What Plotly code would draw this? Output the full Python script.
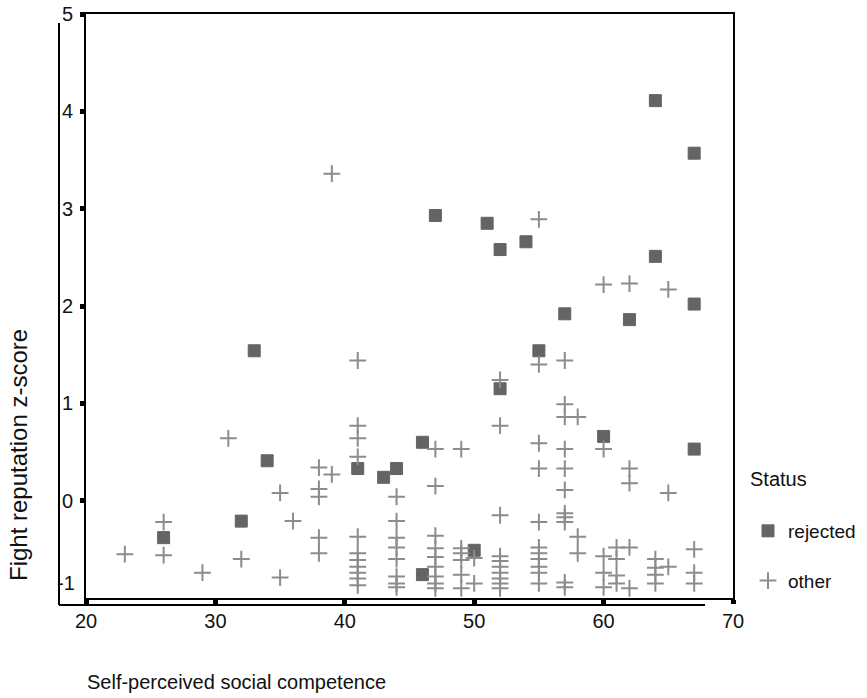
import plotly.graph_objects as go

# ---- data ----
rejected_x = [26, 32, 33, 34, 41, 43, 44, 46, 46, 47, 50, 51, 52, 52, 54, 55, 57, 60, 62, 64, 64, 67, 67, 67]
rejected_y = [-0.38, -0.21, 1.54, 0.41, 0.33, 0.24, 0.33, 0.60, -0.76, 2.93, -0.51, 2.85, 2.58, 1.15,
              2.66, 1.54, 1.92, 0.66, 1.86, 4.11, 2.51, 3.57, 2.02, 0.53]

other_x = ([23] + [26] * 2 + [29] + [31] + [32] + [35] * 2 + [36] + [38] * 5 + [39] * 2 + [41] * 11 +
           [44] * 8 + [47] * 9 + [49] * 6 + [50] * 2 + [52] * 10 + [55] * 11 + [57] * 11 + [58] * 3 +
           [60] * 5 + [61] * 4 + [62] * 5 + [64] * 4 + [65] * 3 + [67] * 3)
other_y = [
    -0.55,
    -0.22, -0.56,
    -0.74,
    0.64,
    -0.60,
    0.08, -0.79,
    -0.21,
    0.34, 0.12, 0.04, -0.38, -0.54,
    3.36, 0.27,
    1.44, 0.77, 0.64, 0.45, -0.37, -0.54, -0.61, -0.68, -0.74, -0.80, -0.87,
    0.04, -0.21, -0.38, -0.48, -0.60, -0.78, -0.85, -0.89,
    0.53, 0.15, -0.36, -0.49, -0.58, -0.68, -0.78, -0.85, -0.90,
    0.53, -0.49, -0.54, -0.61, -0.76, -0.90,
    -0.59, -0.85,
    1.24, 0.77, -0.15, -0.57, -0.62, -0.68, -0.74, -0.80, -0.85, -0.90,
    2.89, 1.40, 0.59, 0.33, -0.22, -0.48, -0.54, -0.60, -0.68, -0.74, -0.85,
    1.44, 0.99, 0.86, 0.53, 0.33, 0.11, -0.13, -0.17, -0.22, -0.84, -0.89,
    0.86, -0.37, -0.54,
    2.22, 0.53, -0.57, -0.74, -0.89,
    -0.48, -0.60, -0.77, -0.85,
    2.23, 0.33, 0.18, -0.48, -0.90,
    -0.60, -0.69, -0.76, -0.85,
    2.17, 0.08, -0.68,
    -0.50, -0.74, -0.85,
]

x_ticks = [20, 30, 40, 50, 60, 70]
y_ticks = [0, 1, 2, 3, 4, 5]

FONT = "Liberation Sans, Arial, sans-serif"
W, H = 867, 698
L, R, T, B = 86, 733, 14, 598
PW, PH = R - L, B - T


def px(sx):
    return (sx - L) / PW


def py(sy):
    return (B - sy) / PH


fig = go.Figure()
fig.add_trace(go.Scatter(
    x=rejected_x, y=rejected_y, mode="markers", name="rejected", legendgroup="a",
    marker=dict(symbol="square", size=12, color="#646464", line=dict(width=1, color="#646464")),
))
fig.add_trace(go.Scatter(
    x=other_x, y=other_y, mode="markers", name="other", legendgroup="b",
    marker=dict(symbol="cross-thin", size=12, line=dict(width=2, color="#8c8c8c"), color="#8c8c8c"),
))

fig.update_layout(
    width=W, height=H,
    margin=dict(l=L, r=W - R, t=T, b=H - B, autoexpand=False),
    plot_bgcolor="white", paper_bgcolor="white",
    font=dict(family=FONT, color="#111111", size=19),
    showlegend=True,
    legend=dict(
        title=dict(text="Status<br> ", font=dict(size=20)),
        traceorder="grouped",
        x=px(748), xanchor="left", y=py(460), yanchor="top",
        font=dict(size=19),
        tracegroupgap=22,
        bgcolor="rgba(0,0,0,0)",
    ),
    xaxis=dict(
        range=[20, 70], tickvals=x_ticks, ticks="outside", ticklen=4, tickwidth=5,
        tickcolor="black", showline=True, linecolor="black", linewidth=2, mirror=True,
        showgrid=False, zeroline=False, tickfont=dict(size=20), automargin=False,
    ),
    yaxis=dict(
        range=[-1, 5], tickvals=y_ticks, ticks="outside", ticklen=4, tickwidth=5,
        tickcolor="black", showline=True, linecolor="black", linewidth=2, mirror=True,
        showgrid=False, zeroline=False, tickfont=dict(size=20), ticklabelstandoff=3,
        automargin=False,
    ),
)

# extra "-1" label (drawn slightly above the corner, as in the original)
fig.add_annotation(text="-1", xref="paper", yref="paper", x=px(77), y=py(583),
                   xanchor="right", yanchor="middle", showarrow=False, font=dict(size=20))
# axis titles
fig.add_annotation(text="Fight reputation z-score", xref="paper", yref="paper",
                   x=px(18), y=py(455), textangle=-90,
                   xanchor="center", yanchor="middle", showarrow=False, font=dict(size=24))
fig.add_annotation(text="Self-perceived social competence", xref="paper", yref="paper",
                   x=px(236), y=py(682),
                   xanchor="center", yanchor="middle", showarrow=False, font=dict(size=20))

# outer offset frame lines
fig.add_shape(type="line", xref="paper", yref="paper", x0=px(59), x1=px(59),
              y0=py(605), y1=py(23), line=dict(color="black", width=2))
fig.add_shape(type="line", xref="paper", yref="paper", x0=px(59), x1=px(705),
              y0=py(605), y1=py(605), line=dict(color="black", width=2))

fig.write_html("out.html", config={"displayModeBar": False},
               post_script="document.body.style.margin='0';")
